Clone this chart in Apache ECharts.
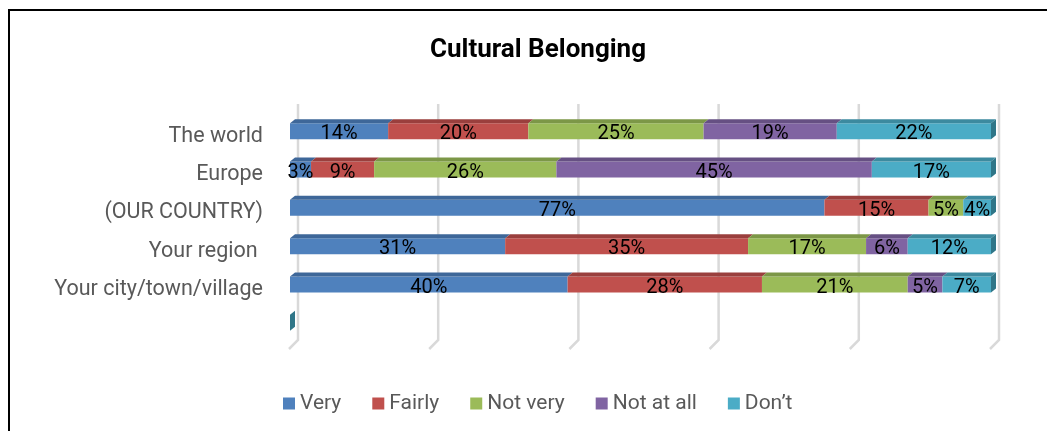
<!DOCTYPE html>
<html>
<head>
<meta charset="utf-8">
<script src="https://cdn.jsdelivr.net/npm/echarts@6/dist/echarts.min.js"></script>
<style>
  html, body { margin: 0; padding: 0; background: #fff; }
  #chart { width: 1047px; height: 431px; }
</style>
</head>
<body>
<div id="chart"></div>
<script>
const categories = ['The world', 'Europe', '(OUR COUNTRY)', 'Your region ', 'Your city/town/village', '']
const seriesNames = ['Very', 'Fairly', 'Not very', 'Not at all', 'Don\u2019t']
const very = [14, 3, 77, 31, 40, 0]
const fairly = [20, 9, 15, 35, 28, 0]
const notVery = [25, 26, 5, 17, 21, 0]
const notAtAll = [19, 45, 0, 6, 5, 0]
const dont = [22, 17, 4, 12, 7, 0]
const gridTicks = [0, 20, 40, 60, 80, 100]

const values = [very, fairly, notVery, notAtAll, dont]
const colors = ['#4F81BD', '#C0504D', '#9BBB59', '#8064A2', '#4BACC6']
const tops = ['#3E6799', '#9A3F3D', '#7C9747', '#665083', '#3C8A9F']
const sideColor = '#2F7688'
const font = 'Roboto, "Noto Sans", sans-serif'

// 100% stacked: start/end of each segment in percent
const totals = categories.map((c, i) => values.reduce((s, arr) => s + arr[i], 0))
const stacked = values.map(() => [])
categories.forEach((c, i) => {
  let acc = 0
  values.forEach((arr, k) => {
    const share = totals[i] ? arr[i] / totals[i] * 100 : 0
    stacked[k].push([i, acc, acc + share, arr[i]])
    acc += share
  })
})

const H = 16, DX = 5, DY = 4

function barItem(k){
  return function(params, api){
    const cat = api.value(0)
    const s = api.coord([api.value(1), cat])
    const e = api.coord([api.value(2), cat])
    const y0 = s[1] - H / 2
    const w = Math.max(e[0] - s[0], 0)
    const children = [
      {type: 'rect', shape: {x: s[0], y: y0, width: w, height: H}, style: {fill: colors[k]}},
      {type: 'polygon', shape: {points: [[s[0], y0], [s[0] + DX, y0 - DY], [e[0] + DX, y0 - DY], [e[0], y0]]}, style: {fill: tops[k]}}
    ]
    if (k === values.length - 1) {
      children.push({type: 'polygon', shape: {points: [[e[0], y0], [e[0] + DX, y0 - DY], [e[0] + DX, y0 + H - DY], [e[0], y0 + H]]}, style: {fill: sideColor}})
    }
    const v = api.value(3)
    if (v > 0) {
      children.push({type: 'text', z2: 10, style: {
        text: v + '%', x: (s[0] + e[0]) / 2, y: s[1] + 3,
        align: 'center', verticalAlign: 'middle',
        font: '20px ' + font, fill: '#000'
      }})
    }
    return {type: 'group', children}
  }
}

const chart = echarts.init(document.getElementById('chart'))
chart.setOption({
  animation: false,
  title: {
    text: 'Cultural Belonging', left: 533, top: 32, textAlign: 'center',
    textStyle: {fontFamily: font, fontWeight: 'bold', fontSize: 26, color: '#000'}
  },
  legend: {
    left: 278, top: 388, icon: 'rect', itemWidth: 12, itemHeight: 12, itemGap: 31,
    textStyle: {fontFamily: font, fontSize: 21, color: '#595959'},
    data: seriesNames
  },
  graphic: [{
    type: 'polyline', shape: {points: [[9, 431], [9, 10], [1047, 10]]},
    style: {stroke: '#000', lineWidth: 2, fill: null}, silent: true
  }],
  grid: [
    {left: 290, right: 56, top: 112, bottom: 89},
    {left: 298, right: 48, top: 104, bottom: 91}
  ],
  xAxis: [
    {gridIndex: 0, type: 'value', min: 0, max: 100, show: false},
    {gridIndex: 1, type: 'value', min: 0, max: 100, show: false}
  ],
  yAxis: [
    {gridIndex: 0, type: 'category', data: categories, inverse: true,
     axisLine: {show: false}, axisTick: {show: false},
     axisLabel: {margin: 27, fontFamily: font, fontSize: 21.5, color: '#595959',
       verticalAlign: 'top', lineHeight: 10}},
    {gridIndex: 1, type: 'value', min: 0, max: 1, show: false}
  ],
  series: [
    {
      type: 'custom', xAxisIndex: 1, yAxisIndex: 1, z: 1, silent: true,
      data: gridTicks.map(t => [t]),
      renderItem: function(params, api){
        const top = api.coord([api.value(0), 1])
        const bot = api.coord([api.value(0), 0])
        return {type: 'polyline', shape: {points: [top, bot, [bot[0] - 9, bot[1] + 9]]},
          style: {stroke: '#D9D9D9', lineWidth: 2.5, fill: null}}
      }
    },
    ...values.map((arr, k) => ({
      name: seriesNames[k], type: 'custom', z: 2,
      itemStyle: {color: colors[k]},
      encode: {x: [1, 2], y: 0},
      data: stacked[k],
      renderItem: barItem(k)
    }))
  ]
})
</script>
</body>
</html>
